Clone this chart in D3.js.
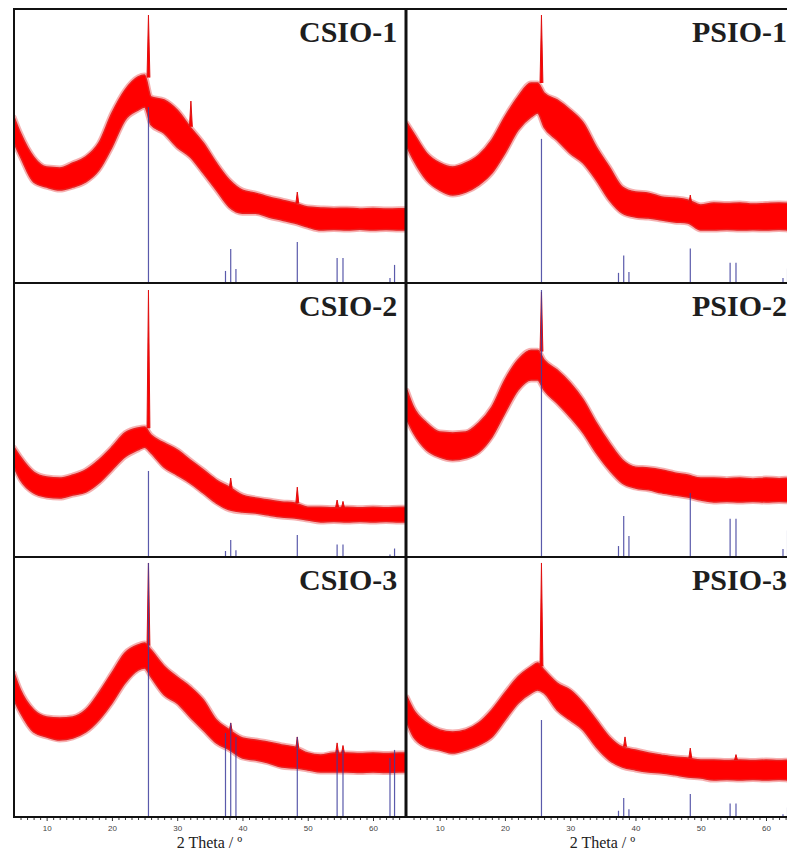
<!DOCTYPE html>
<html>
<head>
<meta charset="utf-8">
<script src="https://cdn.jsdelivr.net/npm/d3@7"></script>
<style>
  body { margin: 0; background: #fff; }
  svg { display: block; }
</style>
</head>
<body>
<svg id="chart" width="787" height="855"></svg>
<script>
const twoTheta = [5, 6, 8, 10, 12, 14, 16, 18, 20, 22, 24, 25, 26,
  28, 30, 32, 34, 36, 38, 40, 42, 44, 46, 48, 50,
  52, 54, 56, 58, 60, 62, 64, 65];

// band upper / lower edges, intensity in % of panel height
const csio1Hi = [60.6, 54.7, 46.0, 42.3, 42.0, 43.8, 46.0, 51.1, 62.0, 70.4, 75.2, 75.9, 67.9,
  66.8, 63.1, 56.9, 51.1, 43.8, 37.6, 33.9, 32.8, 31.4, 30.3, 29.2, 27.7,
  27.4, 27.2, 27.3, 27.0, 27.2, 27.0, 27.1, 27.1];
const csio1Lo = [51.1, 46.0, 36.9, 35.0, 33.9, 35.0, 36.9, 41.2, 49.6, 59.5, 63.1, 64.2, 57.7,
  54.7, 49.6, 46.0, 40.1, 33.9, 27.7, 25.5, 25.5, 24.1, 23.0, 21.9, 20.4,
  19.3, 19.5, 19.3, 19.6, 19.3, 19.5, 19.3, 19.3];
const psio1Hi = [58.4, 54.7, 47.4, 43.8, 42.3, 43.8, 46.7, 52.2, 60.6, 67.9, 73.0, 73.0, 69.3,
  66.8, 63.1, 58.4, 49.6, 42.3, 35.0, 33.2, 32.8, 31.4, 31.0, 30.3, 28.5,
  29.2, 29.0, 29.2, 28.8, 29.0, 29.2, 29.0, 29.0];
const psio1Lo = [49.6, 44.9, 37.6, 33.9, 32.1, 33.2, 35.8, 40.1, 47.4, 55.8, 60.6, 62.0, 56.9,
  52.2, 47.4, 43.8, 37.6, 30.3, 25.5, 24.1, 23.7, 23.0, 22.3, 21.9, 19.3,
  19.3, 19.5, 19.3, 19.4, 19.3, 19.5, 19.3, 19.3];
const csio2Hi = [40.1, 36.5, 31.0, 29.2, 28.8, 29.9, 31.8, 35.4, 40.1, 45.3, 47.1, 47.4, 44.5,
  41.6, 39.1, 35.4, 31.8, 28.1, 25.5, 22.6, 21.5, 20.8, 20.1, 19.7, 18.2,
  18.2, 18.0, 18.2, 18.0, 18.2, 18.0, 18.2, 18.2];
const csio2Lo = [32.8, 28.1, 23.4, 21.9, 21.5, 22.6, 23.7, 27.0, 31.8, 36.5, 39.1, 40.1, 38.0,
  32.8, 29.9, 27.0, 23.4, 19.7, 17.2, 16.4, 16.1, 15.3, 14.6, 14.2, 13.5,
  12.8, 13.0, 12.8, 13.0, 12.8, 13.0, 12.8, 12.8];
const psio2Hi = [60.9, 54.7, 48.9, 45.6, 45.3, 45.6, 48.9, 54.7, 64.6, 71.9, 75.5, 75.5, 71.9,
  68.2, 63.5, 57.3, 48.9, 41.6, 35.4, 32.8, 32.5, 31.8, 30.7, 29.9, 28.8,
  28.8, 28.6, 28.8, 28.5, 28.8, 28.6, 28.8, 28.8];
const psio2Lo = [50.0, 45.3, 39.1, 36.5, 35.4, 36.1, 38.3, 43.8, 52.6, 60.9, 64.6, 64.6, 60.9,
  56.2, 51.1, 45.3, 38.0, 31.8, 27.0, 25.2, 24.5, 23.4, 22.6, 21.9, 20.8,
  20.1, 20.3, 20.1, 20.3, 20.1, 20.3, 20.1, 20.1];
const csio3Hi = [55.4, 48.8, 41.2, 38.5, 38.1, 38.5, 41.2, 47.7, 55.4, 63.1, 66.2, 66.9, 64.2,
  58.0, 53.8, 50.0, 45.0, 37.3, 33.5, 30.4, 29.6, 28.8, 27.7, 26.9, 24.6,
  23.8, 24.6, 24.6, 24.4, 24.6, 24.4, 24.6, 24.6];
const csio3Lo = [45.0, 40.0, 32.7, 30.8, 29.6, 30.4, 32.7, 37.3, 43.8, 51.5, 56.5, 57.3, 53.8,
  47.0, 43.8, 38.5, 33.5, 28.5, 25.8, 22.7, 21.9, 20.8, 19.2, 18.8, 18.1,
  17.3, 17.3, 17.3, 17.1, 17.3, 17.1, 17.3, 17.3];
const psio3Hi = [46.2, 41.2, 36.2, 33.5, 32.7, 33.5, 36.2, 41.2, 47.7, 53.8, 57.7, 59.2, 56.5,
  51.5, 48.8, 43.8, 37.3, 30.8, 26.9, 25.8, 24.6, 23.8, 23.1, 22.7, 21.9,
  21.9, 21.7, 21.9, 21.7, 21.9, 21.7, 21.9, 21.9];
const psio3Lo = [36.2, 30.8, 26.9, 25.8, 24.6, 25.8, 27.7, 30.8, 37.3, 43.8, 47.7, 48.8, 47.7,
  41.2, 37.3, 33.5, 26.9, 21.9, 19.2, 18.1, 17.3, 16.9, 16.2, 15.4, 15.0,
  14.2, 14.4, 14.2, 14.4, 14.2, 14.4, 14.2, 14.2];

// sharp peaks: [2 theta, base, top]
const csio1Peaks = [[25.6, 75, 97.8], [32.1, 57, 66.4], [48.4, 29, 33.2]];
const psio1Peaks = [[25.6, 73, 97.8], [48.4, 29, 32.1]];
const csio2Peaks = [[25.6, 47, 97.4], [38.2, 25, 28.8], [48.4, 19.7, 25.5], [54.5, 18.2, 20.8], [55.4, 18, 20.3]];
const psio2Peaks = [[25.6, 75, 96.7]];
const csio3Peaks = [[25.6, 66, 97.7], [38.2, 33, 36.2], [48.4, 26.5, 30.8], [54.5, 24.5, 28.5], [55.4, 24.5, 27.5]];
const psio3Peaks = [[25.6, 58, 97.7], [38.4, 27, 30.8], [48.4, 22.7, 26.5], [55.4, 21.9, 24]];

// reference pattern (anatase) stick positions and heights per panel
const refPos = [25.6, 37.4, 38.2, 39.0, 48.4, 54.5, 55.4, 62.6, 63.3];
const csio1Sticks = [64.2, 4.4, 12.4, 5.1, 15.0, 9.1, 9.1, 1.8, 6.6];
const psio1Sticks = [52.6, 3.7, 10.0, 4.0, 12.6, 7.4, 7.4, 1.8, 5.3];
const csio2Sticks = [31.4, 2.2, 6.2, 2.5, 8.0, 4.6, 4.6, 0.9, 3.1];
const psio2Sticks = [97.4, 4.0, 15.0, 7.7, 23.4, 14.0, 14.0, 2.9, 9.7];
const csio3Sticks = [97.7, 32.3, 36.2, 30.8, 30.8, 25.8, 25.8, 22.7, 25.8];
const psio3Sticks = [37.3, 2.4, 7.3, 3.0, 8.8, 5.2, 5.2, 1.1, 3.7];

const sampleNames = ["CSIO-1", "PSIO-1", "CSIO-2", "PSIO-2", "CSIO-3", "PSIO-3"];
const majorTicks = [10, 20, 30, 40, 50, 60];

const svg = d3.select("#chart");
const colX = [14, 407];
const rowY = [9, 283, 557];
const rowH = [274, 274, 260];
const panelW = 391;

const x = d3.scaleLinear().domain([5, 64.9]).range([0, panelW]);

const panels = [
  [csio1Hi, csio1Lo, csio1Peaks, csio1Sticks],
  [psio1Hi, psio1Lo, psio1Peaks, psio1Sticks],
  [csio2Hi, csio2Lo, csio2Peaks, csio2Sticks],
  [psio2Hi, psio2Lo, psio2Peaks, psio2Sticks],
  [csio3Hi, csio3Lo, csio3Peaks, csio3Sticks],
  [psio3Hi, psio3Lo, psio3Peaks, psio3Sticks],
];

panels.forEach(function (p, i) {
  const col = i % 2, row = Math.floor(i / 2);
  const h = rowH[row];
  const y = d3.scaleLinear().domain([0, 100]).range([h, 0]);
  const g = svg.append("g").attr("transform", `translate(${colX[col]},${rowY[row]})`);

  g.append("clipPath").attr("id", "clip" + i)
    .append("rect").attr("width", panelW).attr("height", h);
  const inner = g.append("g").attr("clip-path", `url(#clip${i})`);

  const band = twoTheta.map((t, k) => [t, p[1][k], p[0][k]]);
  const area = d3.area()
    .x(d => x(d[0])).y0(d => y(d[1])).y1(d => y(d[2]))
    .curve(d3.curveMonotoneX);

  // soft fringe round the band, then the solid core
  inner.append("path").datum(band)
    .attr("d", area)
    .attr("fill", "none")
    .attr("stroke", "#e85050")
    .attr("stroke-width", 5)
    .attr("stroke-opacity", 0.45)
    .attr("stroke-linejoin", "round");
  inner.append("path").datum(band)
    .attr("d", area)
    .attr("fill", "#ff0000")
    .attr("stroke", "#e82020")
    .attr("stroke-width", 1.5)
    .attr("stroke-linejoin", "round");

  // peaks
  inner.selectAll(".peak").data(p[2]).enter().append("path")
    .attr("d", d => d3.line()([[x(d[0] - 0.22), y(d[1])], [x(d[0]), y(d[2])], [x(d[0] + 0.22), y(d[1])]]))
    .attr("fill", "#ff0000")
    .attr("stroke", "#e01010")
    .attr("stroke-width", 1);

  // reference sticks
  inner.selectAll(".stick").data(refPos).enter().append("line")
    .attr("x1", d => x(d)).attr("x2", d => x(d))
    .attr("y1", y(0)).attr("y2", (d, k) => y(p[3][k]))
    .attr("stroke", "#3d3d9c")
    .attr("stroke-opacity", 0.85)
    .attr("stroke-width", 1.2);

  g.append("text")
    .attr("x", 285).attr("y", 33)
    .attr("font-family", "'Liberation Serif', 'Times New Roman', serif")
    .attr("font-weight", "bold")
    .attr("font-size", 30)
    .attr("fill", "#1e1e1e")
    .text(sampleNames[i]);
});

// bottom axes
colX.forEach(function (cx) {
  const ax = svg.append("g").attr("transform", `translate(${cx},817)`);
  ax.append("g")
    .call(d3.axisBottom(x).tickValues(d3.range(6, 65).filter(v => v % 10 !== 0)).tickSize(3).tickFormat(""))
    .call(a => a.select(".domain").remove());
  ax.append("g")
    .call(d3.axisBottom(x).tickValues(majorTicks).tickSize(4).tickPadding(4))
    .call(a => a.select(".domain").remove())
    .call(a => a.selectAll("text").attr("font-size", 8).attr("fill", "#444")
      .attr("font-family", "'Liberation Sans', Arial, sans-serif"));
  ax.selectAll(".tick line").attr("stroke", "#333");
  ax.append("text")
    .attr("x", panelW / 2).attr("y", 31)
    .attr("text-anchor", "middle")
    .attr("font-family", "'Liberation Serif', 'Times New Roman', serif")
    .attr("font-size", 16)
    .attr("fill", "#222")
    .text("2 Theta / º");
});

// frame
const frame = svg.append("g").attr("stroke", "#111");
[9, 283, 557, 817].forEach(function (yy) {
  frame.append("line").attr("x1", 13).attr("x2", 787).attr("y1", yy).attr("y2", yy).attr("stroke-width", 2);
});
frame.append("line").attr("x1", 14).attr("x2", 14).attr("y1", 8).attr("y2", 818).attr("stroke-width", 2);
frame.append("line").attr("x1", 406).attr("x2", 406).attr("y1", 8).attr("y2", 818).attr("stroke-width", 3);
</script>
</body>
</html>
